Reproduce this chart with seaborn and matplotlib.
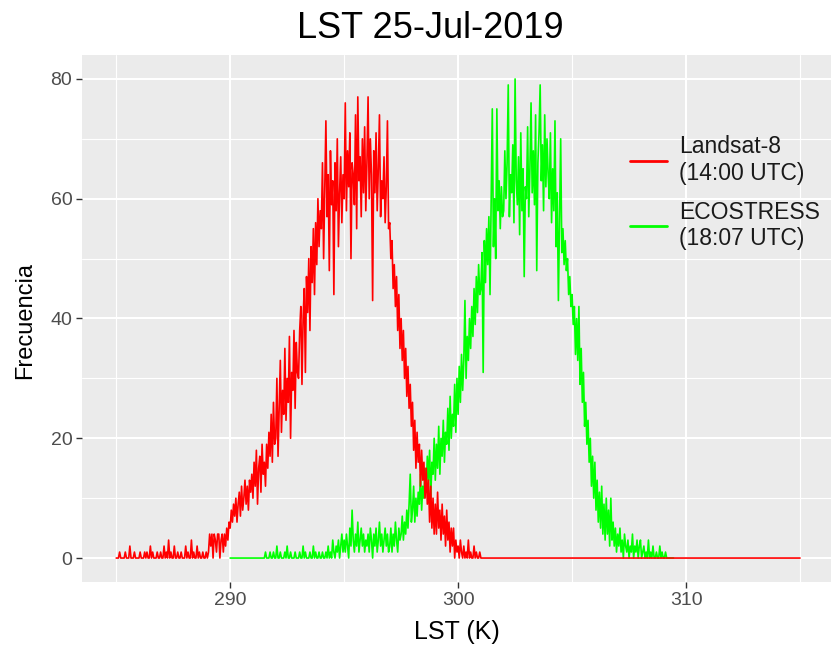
import numpy as np
import pandas as pd
import matplotlib
matplotlib.use("Agg")
import matplotlib.pyplot as plt
from matplotlib.lines import Line2D
from matplotlib.ticker import MultipleLocator
import seaborn as sns

# ---------------- data (counts per 0.05 K bin) ----------------
bin_width = 0.05
red_start = 285.0      # Landsat-8 bins start
green_start = 290.0    # ECOSTRESS bins start

landsat_counts = (
    [0, 0, 0, 1, 0, 0, 0, 0, 1, 0, 0, 0, 2, 0, 0, 0, 1, 0, 0, 0] +          # 285
    [0, 1, 0, 0, 0, 1, 0, 1, 0, 0, 2, 0, 1, 0, 0, 0, 1, 0, 0, 1] +          # 286
    [0, 0, 2, 0, 1, 0, 3, 0, 1, 0, 0, 2, 0, 0, 1, 0, 0, 1, 0, 0] +          # 287
    [0, 2, 0, 1, 0, 0, 3, 0, 1, 0, 0, 2, 0, 1, 0, 0, 1, 0, 0, 1] +          # 288
    [0, 1, 4, 2, 4, 0, 4, 3, 1, 4, 4, 0, 3, 4, 1, 4, 2, 5, 3, 6] +          # 289
    [5, 8, 6, 9, 7, 10, 6, 9, 11, 7, 12, 8, 10, 13, 9, 12, 8, 13, 11, 14] +  # 290
    [10, 16, 12, 18, 9, 15, 17, 11, 19, 14, 16, 12, 19, 15, 21, 17, 24, 16, 26, 19] +  # 291
    [20, 30, 17, 25, 33, 21, 28, 24, 35, 23, 30, 26, 37, 20, 31, 28, 38, 25, 36, 31] +  # 292
    [30, 38, 42, 29, 40, 45, 31, 47, 41, 50, 38, 52, 46, 55, 44, 56, 49, 60, 52, 58] +  # 293
    [55, 66, 50, 62, 73, 57, 64, 48, 68, 59, 63, 44, 66, 58, 70, 52, 61, 67, 56, 64] +  # 294
    [60, 76, 58, 68, 62, 71, 50, 66, 64, 59, 74, 55, 77, 63, 67, 57, 70, 61, 72, 58] +  # 295
    [66, 77, 60, 70, 64, 43, 68, 61, 71, 58, 65, 74, 57, 63, 60, 67, 56, 62, 73, 55] +  # 296
    [56, 50, 53, 45, 49, 42, 47, 38, 44, 35, 40, 33, 38, 30, 35, 27, 32, 25, 29, 22] +  # 297
    [26, 18, 23, 15, 21, 16, 19, 12, 18, 13, 16, 10, 15, 9, 13, 6, 12, 5, 10, 4] +      # 298
    [9, 4, 11, 5, 8, 3, 9, 4, 7, 2, 8, 3, 6, 1, 5, 2, 5, 0, 3, 1] +                      # 299
    [2, 0, 3, 1, 0, 2, 0, 1, 0, 3, 0, 1, 0, 0, 2, 0, 1, 0, 0, 1] +                       # 300
    [0] * 281                                                                           # 301 .. 315
)

ecostress_counts = (
    [0, 0, 0, 0, 0, 0, 0, 0, 0, 0, 0, 0, 0, 0, 0, 0, 0, 0, 0, 0] +          # 290
    [0, 0, 0, 0, 0, 0, 0, 0, 0, 0, 0, 1, 0, 0, 0, 1, 0, 0, 1, 0] +          # 291
    [0, 2, 0, 0, 1, 0, 0, 0, 1, 0, 2, 0, 0, 1, 0, 0, 0, 1, 0, 0] +          # 292
    [0, 1, 0, 0, 2, 0, 1, 0, 0, 0, 1, 0, 0, 2, 0, 1, 0, 0, 1, 0] +          # 293
    [0, 1, 0, 0, 1, 0, 2, 0, 1, 0, 3, 1, 0, 2, 1, 3, 0, 2, 4, 1] +          # 294
    [3, 1, 4, 2, 0, 5, 2, 8, 3, 1, 4, 2, 6, 1, 3, 5, 2, 4, 1, 3] +          # 295
    [2, 4, 1, 5, 3, 0, 4, 2, 5, 1, 3, 6, 2, 4, 1, 3, 5, 2, 4, 1] +          # 296
    [2, 5, 1, 4, 2, 6, 3, 1, 5, 3, 4, 7, 3, 6, 4, 8, 5, 9, 14, 6] +         # 297
    [8, 12, 6, 10, 7, 11, 9, 14, 8, 12, 10, 15, 11, 17, 13, 18, 10, 16, 14, 20] +  # 298
    [13, 19, 15, 22, 14, 20, 17, 23, 16, 21, 19, 25, 18, 27, 20, 24, 22, 29, 21, 30] +  # 299
    [24, 32, 26, 34, 28, 33, 43, 30, 37, 33, 40, 35, 42, 37, 45, 39, 47, 41, 49, 44] +  # 300
    [45, 51, 31, 53, 46, 55, 49, 57, 44, 59, 75, 52, 60, 50, 75, 58, 63, 55, 62, 57] +  # 301
    [58, 68, 60, 66, 79, 57, 64, 61, 69, 56, 80, 63, 59, 67, 54, 71, 58, 65, 47, 62] +  # 302
    [60, 72, 57, 65, 76, 61, 68, 59, 74, 48, 66, 71, 79, 63, 69, 58, 74, 62, 70, 64] +  # 303
    [60, 71, 56, 65, 58, 73, 52, 61, 43, 57, 70, 51, 55, 49, 53, 48, 50, 44, 47, 42] +  # 304
    [44, 39, 42, 34, 40, 33, 42, 29, 35, 26, 31, 22, 26, 19, 23, 16, 20, 12, 17, 10] +  # 305
    [16, 8, 13, 6, 11, 5, 12, 4, 9, 3, 10, 4, 8, 2, 10, 3, 6, 2, 5, 1] +               # 306
    [4, 2, 5, 1, 3, 0, 4, 2, 1, 3, 0, 2, 1, 4, 0, 2, 1, 3, 0, 2] +                      # 307
    [3, 0, 1, 2, 0, 1, 0, 3, 0, 1, 0, 2, 0, 0, 1, 0, 0, 2, 0, 1] +                      # 308
    [0, 0, 1, 0, 0, 0, 0, 0, 0, 0]                                                      # 309
)

series_labels = ["Landsat-8\n(14:00 UTC)", "ECOSTRESS\n(18:07 UTC)"]
series_colors = ["#FF0000", "#00FF00"]
x_ticks = [290, 300, 310]
y_ticks = [0, 20, 40, 60, 80]

landsat_df = pd.DataFrame({
    "LST": red_start + bin_width * np.arange(len(landsat_counts)),
    "Frecuencia": landsat_counts,
})
ecostress_df = pd.DataFrame({
    "LST": green_start + bin_width * np.arange(len(ecostress_counts)),
    "Frecuencia": ecostress_counts,
})

# ---------------- style ----------------
sns.set_theme(style="darkgrid")
plt.rcParams["font.family"] = ["Liberation Sans", "DejaVu Sans"]
W, H = 831, 652
fig = plt.figure(figsize=(W / 100, H / 100), dpi=100)
ax = fig.add_axes([82 / W, (H - 582) / H, 775 / W, 527 / H])
ax.set_facecolor("#EBEBEB")
for s in ax.spines.values():
    s.set_visible(False)

sns.lineplot(data=ecostress_df, x="LST", y="Frecuencia", color=series_colors[1],
             linewidth=1.2, ax=ax, estimator=None, sort=False, legend=False, zorder=3)
sns.lineplot(data=landsat_df, x="LST", y="Frecuencia", color=series_colors[0],
             linewidth=1.2, ax=ax, estimator=None, sort=False, legend=False, zorder=4)

ax.set_xlim(283.5, 317.5)
ax.set_ylim(-4, 84)
ax.set_xticks(x_ticks)
ax.set_yticks(y_ticks)
ax.xaxis.set_minor_locator(MultipleLocator(5))
ax.yaxis.set_minor_locator(MultipleLocator(10))
ax.grid(which="major", color="white", linewidth=1.5)
ax.grid(which="minor", color="white", linewidth=0.8)
ax.set_axisbelow(True)
ax.tick_params(which="major", length=4, width=1.0, color="#333333",
               labelsize=14, labelcolor="#4D4D4D", pad=3,
               bottom=True, left=True)
ax.tick_params(which="minor", length=0)
ax.set_xlabel("")
ax.set_ylabel("")

fig.text(457 / W, 1 - 632 / H, "LST (K)", ha="center", va="center", fontsize=18, color="black")
fig.text(25 / W, 1 - 320 / H, "Frecuencia", ha="center", va="center", rotation=90,
         fontsize=17, color="black")
fig.text(430 / W, 1 - 28 / H, "LST 25-Jul-2019", ha="center", va="center",
         fontsize=26, color="black")

handles = [Line2D([0], [0], color=c, linewidth=2) for c in series_colors]
leg = ax.legend(handles, series_labels, loc="upper left",
                bbox_to_anchor=(630 / W, 1 - 135 / H), bbox_transform=fig.transFigure,
                frameon=False, fontsize=16.5, handlelength=1.6, handletextpad=0.55,
                labelspacing=0.7, borderpad=0, borderaxespad=0)
for t in leg.get_texts():
    t.set_color("#1A1A1A")

fig.savefig("out.png", dpi=100)
